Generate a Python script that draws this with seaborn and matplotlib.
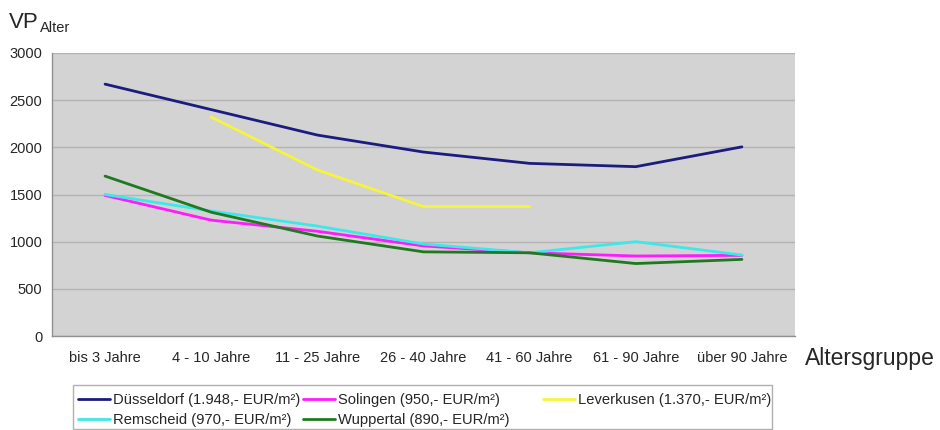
import matplotlib
matplotlib.use("Agg")
import matplotlib.pyplot as plt
from matplotlib.lines import Line2D
from matplotlib.patches import Rectangle
import numpy as np
import pandas as pd
import seaborn as sns

categories = ["bis 3 Jahre", "4 - 10 Jahre", "11 - 25 Jahre", "26 - 40 Jahre",
              "41 - 60 Jahre", "61 - 90 Jahre", "über 90 Jahre"]

duesseldorf = [2670, 2400, 2130, 1950, 1830, 1795, 2005]
solingen = [1490, 1228, 1110, 955, 882, 848, 855]
leverkusen = [np.nan, 2320, 1760, 1372, 1372, np.nan, np.nan]
remscheid = [1500, 1325, 1165, 975, 882, 1000, 858]
wuppertal = [1695, 1312, 1060, 892, 882, 768, 812]

series_names = ["Düsseldorf (1.948,- EUR/m²)", "Solingen (950,- EUR/m²)",
                "Leverkusen (1.370,- EUR/m²)", "Remscheid (970,- EUR/m²)",
                "Wuppertal (890,- EUR/m²)"]
series_values = [duesseldorf, solingen, leverkusen, remscheid, wuppertal]
colors = ["#1c1c80", "#ff1aff", "#f5f53a", "#3fe8e8", "#1f7a1f"]

rows = []
for name, vals in zip(series_names, series_values):
    for cat, v in zip(categories, vals):
        rows.append({"Altersgruppe": cat, "Wert": v, "Stadt": name})
df = pd.DataFrame(rows).dropna()
df["pos"] = df["Altersgruppe"].map({c: i for i, c in enumerate(categories)})

sns.set_style("white")
plt.rcParams["font.family"] = ["Liberation Sans", "DejaVu Sans"]

W, H = 940, 430
fig = plt.figure(figsize=(W / 100, H / 100), dpi=100)
ax = fig.add_axes([52 / W, (H - 336) / H, 743 / W, 283 / H])
ax.set_facecolor("#d3d3d3")

sns.lineplot(data=df, x="pos", y="Wert", hue="Stadt", hue_order=series_names,
             palette=dict(zip(series_names, colors)), linewidth=2.0,
             ax=ax, legend=False, sort=True)

ax.set_xlim(-0.5, len(categories) - 0.5)
ax.set_ylim(0, 3000)
ax.set_yticks(range(0, 3001, 500))
ax.tick_params(axis="y", labelsize=10.5, length=4, color="#909090", pad=3)
ax.set_xticks(range(len(categories)))
ax.set_xticklabels(categories, fontsize=10.5)
ax.tick_params(axis="x", which="major", length=0, pad=11)
ax.set_xticks(np.arange(-0.5, len(categories)), minor=True)
ax.tick_params(axis="x", which="minor", length=5, color="#909090")
ax.grid(axis="y", color="#b4b4b4", linewidth=1.0)
ax.grid(axis="x", visible=False)
ax.set_axisbelow(True)
for side in ["top", "right"]:
    ax.spines[side].set_visible(False)
for side in ["left", "bottom"]:
    ax.spines[side].set_color("#909090")
    ax.spines[side].set_linewidth(1.0)
ax.set_xlabel("")
ax.set_ylabel("")

# axis titles
fig.text(9 / W, 1 - 28 / H, "VP", fontsize=16, ha="left", va="baseline")
fig.text(40 / W, 1 - 32 / H, "Alter", fontsize=10.5, ha="left", va="baseline")
fig.text(805 / W, 1 - 365 / H, "Altersgruppe", fontsize=16.5, ha="left", va="baseline")

# legend: frame plus three columns
fig.patches.append(Rectangle((73 / W, 1 - 429 / H), 699 / W, 44 / H,
                             transform=fig.transFigure, facecolor="white",
                             edgecolor="#b0b0b0", linewidth=1.0))
columns = [([0, 3], 78), ([1, 4], 303), ([2], 543)]
for idxs, x0 in columns:
    handles = [Line2D([], [], color=colors[i], linewidth=2.0) for i in idxs]
    labels = [series_names[i] for i in idxs]
    fig.legend(handles, labels, loc="upper left",
               bbox_to_anchor=(x0 / W, 1 - 393 / H),
               bbox_transform=fig.transFigure, frameon=False,
               fontsize=10.6, handlelength=2.2, handletextpad=0.15,
               borderpad=0, borderaxespad=0, labelspacing=0.42)

fig.savefig("out.png", dpi=100)
